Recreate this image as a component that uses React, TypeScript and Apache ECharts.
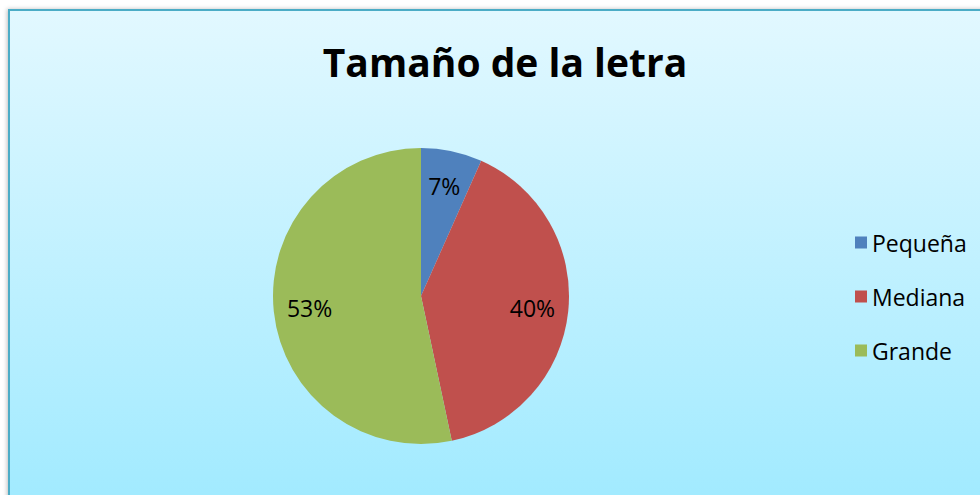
import React, { useEffect, useRef } from "react";
import * as echarts from "echarts";

const categories = ["Pequeña", "Mediana", "Grande"];
const values = [4, 24, 32];
const colors = ["#4f81bd", "#c0504d", "#9bbb59"];
const titleText = "Tamaño de la letra";

export default function App() {
  const ref = useRef<HTMLDivElement>(null);
  useEffect(() => {
    document.body.style.margin = "0";
    const chart = echarts.init(ref.current!, null, { renderer: "svg" });
    const data = categories.map((name, i) => ({ name, value: values[i] }));
    const total = values.reduce((a, b) => a + b, 0);
    chart.setOption({
      animation: false,
      backgroundColor: "#ffffff",
      color: colors,
      graphic: [
        {
          type: "rect",
          z: -10,
          shape: { x: 9, y: 10, width: 990, height: 500 },
          style: {
            fill: new echarts.graphic.LinearGradient(0, 0, 0, 1, [
              { offset: 0, color: "#e2f8ff" },
              { offset: 1, color: "#a0eaff" },
            ]),
            stroke: "#4bacc6",
            lineWidth: 2,
            shadowBlur: 4,
            shadowColor: "rgba(0,0,0,0.25)",
            shadowOffsetX: -1,
          },
          silent: true,
        },
      ],
      title: {
        text: titleText,
        left: 500,
        textAlign: "center",
        top: 34,
        textStyle: {
          fontFamily: "Open Sans",
          fontWeight: "bold",
          fontSize: 39,
          lineHeight: 44,
          color: "#000",
        },
      },
      legend: {
        orient: "vertical",
        left: 850,
        top: 226,
        itemWidth: 12,
        itemHeight: 12,
        itemGap: 31,
        icon: "rect",
        textStyle: { fontFamily: "Open Sans", fontSize: 23, lineHeight: 23, color: "#000" },
        data: categories,
      },
      series: [
        {
          type: "pie",
          center: [421, 296],
          radius: [0, 148],
          startAngle: 90,
          clockwise: true,
          label: { show: false },
          labelLine: { show: false },
          data,
          silent: true,
        },
        {
          type: "pie",
          center: [421, 296],
          radius: [70, 148],
          startAngle: 90,
          clockwise: true,
          itemStyle: { color: "transparent" },
          label: {
            show: true,
            position: "inside",
            fontFamily: "Open Sans",
            fontSize: 23,
            color: "#000",
            formatter: (p: any) => Math.round((p.value / total) * 100) + "%",
          },
          labelLine: { show: false },
          data,
          silent: true,
          legendHoverLink: false,
        },
      ],
    });
    return () => chart.dispose();
  }, []);
  return <div ref={ref} style={{ width: 980, height: 495 }} />;
}
